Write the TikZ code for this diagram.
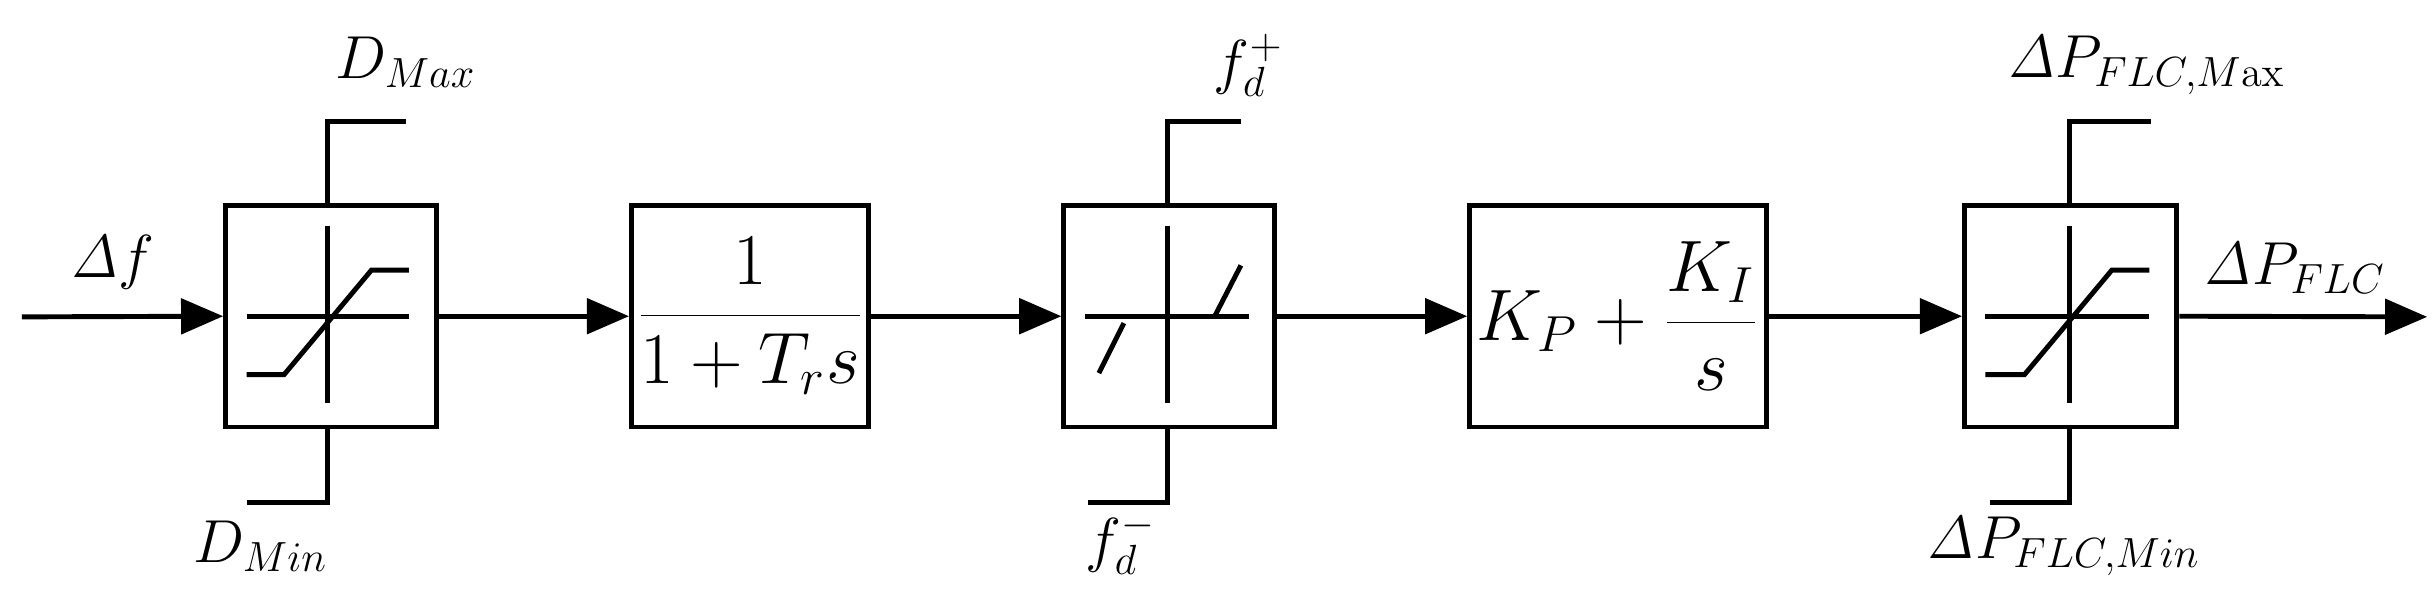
\documentclass[tikz,border=0pt]{standalone}
\usepackage{fix-cm}
\usetikzlibrary{arrows.meta}
\begin{document}
\begin{tikzpicture}[x=0.01561cm,y=-0.01561cm,
  blk/.style={draw,line width=1.4pt,minimum width=#1*0.01561cm,minimum height=142*0.01561cm,anchor=north west,inner sep=0pt},
  ln/.style={line width=1.4pt},
  arr/.style={line width=1.4pt,-{Triangle[length=12pt,width=10pt]}},
  lbl/.style={font=\LARGE}]
\useasboundingbox (0,0) rectangle (1560,386);
\node[blk=135] (b1) at (143,130) {};
\node[blk=152,font=\huge] (b2) at (403,130) {$\displaystyle\frac{1}{1+T_r s}$};
\node[blk=135] (b3) at (680,130) {};
\node[blk=190,font=\huge] (b4) at (940,130) {$\displaystyle K_P+\frac{K_I}{s}$};
\node[blk=136] (b5) at (1257,130) {};
\coordinate (in) at (14,203);
\coordinate (out) at (1555,203);
\draw[arr] (in) -- (b1.west);
\draw[arr] (b1.east) -- (b2.west);
\draw[arr] (b2.east) -- (b3.west);
\draw[arr] (b3.east) -- (b4.west);
\draw[arr] (b4.east) -- (b5.west);
\draw[arr] (b5.east) -- (out);
\node[lbl] (df) at (72,168) {$\mathit{\Delta} f$};
\node[lbl] (dp) at (1470,172) {$\mathit{\Delta} P_{FLC}$};
% limits
\draw[ln] (210,130) -- (210,78) -- (260,78);
\draw[ln] (210,272) -- (210,322) -- (158,322);
\node[lbl] (dmax) at (260,40) {$D_{Max}$};
\node[lbl] (dmin) at (167,350) {$D_{Min}$};
\draw[ln] (748,130) -- (748,78) -- (795,78);
\draw[ln] (748,272) -- (748,322) -- (697,322);
\node[lbl] (fp) at (800,42) {$f_d^+$};
\node[lbl] (fm) at (718,348) {$f_d^-$};
\draw[ln] (1326,130) -- (1326,78) -- (1378,78);
\draw[ln] (1326,272) -- (1326,322) -- (1275,322);
\node[lbl] (pmax) at (1375,42) {$\mathit{\Delta} P_{FLC,M\mathrm{ax}}$};
\node[lbl] (pmin) at (1322,350) {$\mathit{\Delta} P_{FLC,Min}$};
% block icons
\draw[ln] (158,203) -- (262,203) (210,145) -- (210,258);
\draw[ln] (158,240) -- (182,240) -- (238,173) -- (262,173);
\draw[ln] (695,203) -- (800,203) (748,145) -- (748,258);
\draw[ln] (704,239) -- (720,207) (778,203) -- (795,170);
\draw[ln] (1272,203) -- (1377,203) (1326,145) -- (1326,258);
\draw[ln] (1272,240) -- (1297,240) -- (1353,173) -- (1377,173);
\end{tikzpicture}
\end{document}
